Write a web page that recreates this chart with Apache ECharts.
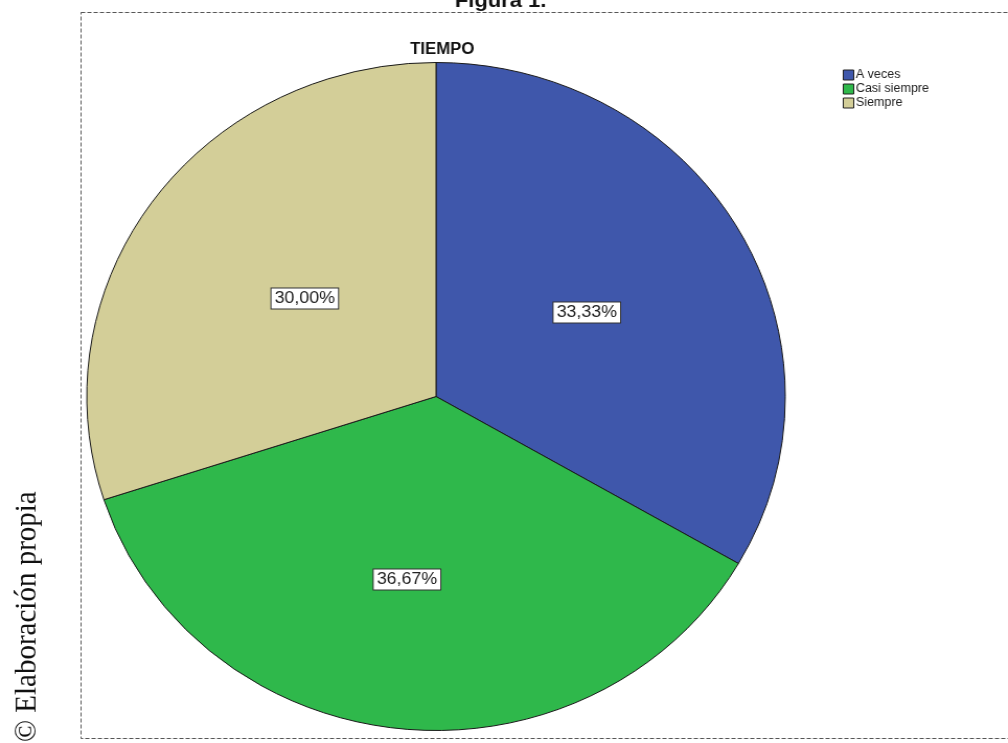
<!DOCTYPE html>
<html>
<head>
<meta charset="utf-8">
<script src="https://cdn.jsdelivr.net/npm/echarts@6/dist/echarts.min.js"></script>
<style>
  html, body { margin: 0; padding: 0; background: #fff; overflow: hidden; }
  #wrap { width: 1008px; height: 743px; overflow: hidden; }
  /* the figure is drawn slightly narrower and widened horizontally */
  #chart { width: 964px; height: 743px; transform: scaleX(1.0456); transform-origin: 0 0; }
</style>
</head>
<body>
<div id="wrap"><div id="chart"></div></div>
<script>
const categories = ['A veces', 'Casi siempre', 'Siempre'];
const counts = [10, 11, 9];
const sliceColors = ['#3F57AB', '#2FB84B', '#D3CE98'];

const chart = echarts.init(document.getElementById('chart'), null, { renderer: 'canvas' });

// small nudges of the value boxes inside each slice
const boxNudge = { 'A veces': [-3, 1], 'Casi siempre': [-10, 14], 'Siempre': [12, 2] };

const pieData = categories.map((name, i) => ({
  name: name,
  value: counts[i],
  itemStyle: { color: sliceColors[i] },
  label: { offset: boxNudge[name] }
}));

chart.setOption({
  backgroundColor: '#ffffff',
  animation: false,
  title: {
    text: 'TIEMPO',
    left: 418,
    top: 37,
    textAlign: 'center',
    textStyle: { fontFamily: 'Arial, "Liberation Sans", sans-serif', fontSize: 16, fontWeight: 'bold', color: '#111' }
  },
  legend: {
    orient: 'vertical',
    left: 806,
    top: 69,
    padding: 0,
    icon: 'rect',
    itemWidth: 10,
    itemHeight: 10,
    itemGap: 2,
    data: categories,
    itemStyle: { borderColor: '#222', borderWidth: 1 },
    textStyle: { fontFamily: 'Arial, "Liberation Sans", sans-serif', fontSize: 12, color: '#222', padding: [0, 0, 0, -3] }
  },
  graphic: [
    {
      type: 'text',
      left: 435,
      top: -9,
      style: {
        text: 'Figura 1.',
        font: 'bold 21px Arial, "Liberation Sans", sans-serif',
        fill: '#111'
      },
      z: 10
    },
    {
      type: 'rect',
      shape: { x: 77.5, y: 12.5, width: 1000, height: 726 },
      style: { fill: 'none', stroke: '#555', lineWidth: 1, lineDash: [4, 2] },
      z: 5
    },
    {
      type: 'text',
      x: 12,
      y: 742,
      rotation: Math.PI / 2,
      style: {
        text: '© Elaboración propia',
        font: '29px "Liberation Serif", "Times New Roman", serif',
        fill: '#111',
        textAlign: 'left',
        textVerticalAlign: 'top'
      },
      z: 10
    }
  ],
  series: [{
    type: 'pie',
    center: [417, 396.5],
    radius: [0, 334],
    startAngle: 90,
    clockwise: true,
    avoidLabelOverlap: false,
    itemStyle: { borderColor: '#1a1a1a', borderWidth: 1 },
    label: {
      show: true,
      position: 'inside',
      formatter: p => p.percent.toFixed(2).replace('.', ',') + '%',
      fontFamily: 'Arial, "Liberation Sans", sans-serif',
      fontSize: 17,
      color: '#222',
      backgroundColor: '#ffffff',
      borderColor: '#333',
      borderWidth: 1,
      padding: [2, 3, 1, 3]
    },
    labelLine: { show: false },
    emphasis: { disabled: true },
    data: pieData
  }]
});
</script>
</body>
</html>
